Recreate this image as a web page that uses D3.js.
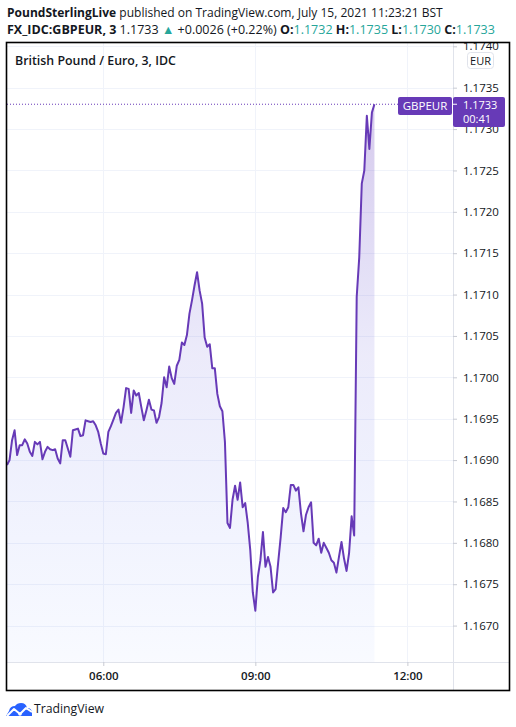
<!DOCTYPE html>
<html>
<head>
<meta charset="utf-8">
<script src="https://cdn.jsdelivr.net/npm/d3@7"></script>
<style>
  html, body { margin: 0; padding: 0; background: #ffffff; }
  svg { display: block; }
</style>
</head>
<body>
<svg id="chart" width="516" height="727"></svg>
<script>
// ---------------- DATA ----------------
const symbol = "GBPEUR";
const currency = "EUR";
const seriesTitle = "British Pound / Euro, 3, IDC";
const firstBarTime = "04:06";      // 3-minute bars
const barMinutes = 3;
const viewWindow = ["04:06", "12:54"];
const closes = [
  1.16894, 1.16900, 1.16924, 1.16936, 1.16906, 1.16918, 1.16918, 1.16925, 1.16920, 1.16910,
  1.16905, 1.16922, 1.16919, 1.16922, 1.16901, 1.16910, 1.16916, 1.16913, 1.16912, 1.16913,
  1.16902, 1.16896, 1.16924, 1.16924, 1.16914, 1.16904, 1.16936, 1.16937, 1.16938, 1.16929,
  1.16930, 1.16948, 1.16947, 1.16946, 1.16947, 1.16942, 1.16934, 1.16920, 1.16908, 1.16907,
  1.16934, 1.16941, 1.16949, 1.16957, 1.16961, 1.16945, 1.16964, 1.16987, 1.16986, 1.16957,
  1.16984, 1.16978, 1.16981, 1.16964, 1.16948, 1.16960, 1.16973, 1.16961, 1.16960, 1.16945,
  1.16952, 1.16969, 1.17000, 1.16988, 1.17013, 1.16999, 1.16992, 1.17014, 1.17021, 1.17042,
  1.17039, 1.17051, 1.17077, 1.17093, 1.17111, 1.17127, 1.17105, 1.17089, 1.17048, 1.17037,
  1.17040, 1.17011, 1.17011, 1.16980, 1.16965, 1.16959, 1.16922, 1.16824, 1.16818, 1.16852,
  1.16869, 1.16852, 1.16873, 1.16843, 1.16848, 1.16824, 1.16791, 1.16740, 1.16718, 1.16759,
  1.16779, 1.16813, 1.16771, 1.16783, 1.16771, 1.16740, 1.16744, 1.16776, 1.16807, 1.16842,
  1.16837, 1.16843, 1.16870, 1.16870, 1.16863, 1.16867, 1.16836, 1.16814, 1.16834, 1.16843,
  1.16849, 1.16800, 1.16797, 1.16805, 1.16788, 1.16800, 1.16794, 1.16788, 1.16779, 1.16776,
  1.16764, 1.16783, 1.16801, 1.16781, 1.16766, 1.16788, 1.16832, 1.16809, 1.17097, 1.17145,
  1.17234, 1.17250, 1.17316, 1.17276, 1.17320, 1.17330
];
const yDomain = [1.16656, 1.17404];
const priceTicks = [1.1670, 1.1675, 1.1680, 1.1685, 1.1690, 1.1695, 1.1700,
                    1.1705, 1.1710, 1.1715, 1.1720, 1.1725, 1.1730, 1.1735, 1.1740];
const timeTicks = ["06:00", "09:00", "12:00"];
const lastPrice = "1.1733";
const countdown = "00:41";
const headerLine1 = [
  { t: "PoundSterlingLive", w: 700, c: "#131722" },
  { t: " published on TradingView.com, July 15, 2021 11:23:21 BST", w: 400, c: "#131722" }
];
const headerLine2 = [
  { t: "FX_IDC:GBPEUR, 3", w: 700, c: "#131722" },
  { t: " 1.1733 ", w: 400, c: "#131722" },
  { t: "\u25B2", w: 400, c: "#26a69a" },
  { t: " +0.0026 (+0.22%) ", w: 400, c: "#131722" },
  { t: "O:", w: 700, c: "#131722" }, { t: "1.1732", w: 400, c: "#26a69a" },
  { t: " H:", w: 700, c: "#131722" }, { t: "1.1735", w: 400, c: "#26a69a" },
  { t: " L:", w: 700, c: "#131722" }, { t: "1.1730", w: 400, c: "#26a69a" },
  { t: " C:", w: 700, c: "#131722" }, { t: "1.1733", w: 400, c: "#26a69a" }
];

// ---------------- LAYOUT ----------------
const FONT = "'Open Sans', 'Noto Sans', sans-serif";
const frame = { left: 7, top: 43, right: 509, bottom: 690 };
const plot = { left: 7, top: 43, right: 453, bottom: 662 };
const purple = "#673ab7";

const svg = d3.select("#chart").attr("font-family", FONT);
const parseT = d3.timeParse("%Y-%m-%d %H:%M");
const T = s => parseT("2021-07-15 " + s);

const x = d3.scaleTime().domain(viewWindow.map(T)).range([plot.left, plot.right]);
const y = d3.scaleLinear().domain(yDomain).range([plot.bottom, plot.top]);

const t0 = T(firstBarTime);
const data = closes.map((v, i) => ({ t: d3.timeMinute.offset(t0, i * barMinutes), v }));

function fitWidth(sel, target) {
  const base = parseFloat(sel.attr("font-size"));
  const len = sel.node().getComputedTextLength();
  sel.attr("font-size", (base * target / len).toFixed(2));
}

// ---------------- HEADER ----------------
function richLine(parts, yPos, width, size) {
  const t = svg.append("text").attr("x", 7).attr("y", yPos).attr("font-size", size);
  parts.forEach(p => t.append("tspan").attr("font-weight", p.w).attr("fill", p.c).text(p.t));
  fitWidth(t, width);
  return t;
}
richLine(headerLine1, 17, 436, 13);
richLine(headerLine2, 34, 488, 13);

// ---------------- GRID ----------------
const defs = svg.append("defs");
defs.append("clipPath").attr("id", "plotClip").append("rect")
  .attr("x", plot.left).attr("y", plot.top)
  .attr("width", plot.right - plot.left).attr("height", plot.bottom - plot.top);
defs.append("clipPath").attr("id", "axisClip").append("rect")
  .attr("x", plot.right).attr("y", frame.top)
  .attr("width", frame.right - plot.right).attr("height", plot.bottom - frame.top);

const grid = svg.append("g").attr("clip-path", "url(#plotClip)");
grid.selectAll("line.h").data(priceTicks).join("line")
  .attr("x1", plot.left).attr("x2", plot.right)
  .attr("y1", d => Math.round(y(d)) + 0.5).attr("y2", d => Math.round(y(d)) + 0.5)
  .attr("stroke", "#f0f3fa").attr("stroke-width", 1);
grid.selectAll("line.v").data(timeTicks).join("line")
  .attr("x1", d => Math.round(x(T(d))) + 0.5).attr("x2", d => Math.round(x(T(d))) + 0.5)
  .attr("y1", plot.top).attr("y2", plot.bottom)
  .attr("stroke", "#f0f3fa").attr("stroke-width", 1);

// ---------------- AREA + LINE ----------------
const grad = defs.append("linearGradient").attr("id", "areaGrad")
  .attr("gradientUnits", "userSpaceOnUse")
  .attr("x1", 0).attr("x2", 0).attr("y1", y(d3.max(closes))).attr("y2", plot.bottom);
grad.append("stop").attr("offset", "0%").attr("stop-color", "rgb(126,87,194)").attr("stop-opacity", 0.32);
grad.append("stop").attr("offset", "45%").attr("stop-color", "rgb(110,100,220)").attr("stop-opacity", 0.13);
grad.append("stop").attr("offset", "100%").attr("stop-color", "rgb(41,98,255)").attr("stop-opacity", 0.03);

const chartG = svg.append("g").attr("clip-path", "url(#plotClip)");
chartG.append("path").datum(data)
  .attr("fill", "url(#areaGrad)")
  .attr("d", d3.area().x(d => x(d.t)).y0(plot.bottom).y1(d => y(d.v)));

const lastY = y(+lastPrice);
chartG.append("line")
  .attr("x1", plot.left).attr("x2", 398).attr("y1", lastY).attr("y2", lastY)
  .attr("stroke", purple).attr("stroke-width", 1).attr("stroke-dasharray", "1,2");

chartG.append("path").datum(data)
  .attr("fill", "none").attr("stroke", purple).attr("stroke-width", 2)
  .attr("stroke-linejoin", "round")
  .attr("d", d3.line().x(d => x(d.t)).y(d => y(d.v)));

// ---------------- TITLE ----------------
svg.append("text").attr("x", 15).attr("y", 65).attr("font-size", 12.5)
  .attr("font-weight", 600).attr("fill", "#131722").text(seriesTitle)
  .call(s => fitWidth(s, 161));

// ---------------- AXES ----------------
const axisLine = "#e0e3eb";
svg.append("line").attr("x1", plot.right + 0.5).attr("x2", plot.right + 0.5)
  .attr("y1", frame.top).attr("y2", frame.bottom).attr("stroke", axisLine);
svg.append("line").attr("x1", frame.left).attr("x2", frame.right)
  .attr("y1", plot.bottom + 0.5).attr("y2", plot.bottom + 0.5).attr("stroke", axisLine);

const yAxisOuter = svg.append("g").attr("clip-path", "url(#axisClip)");
const yAxisG = yAxisOuter.append("g")
  .attr("transform", `translate(${plot.right},0)`)
  .call(d3.axisRight(y).tickValues(priceTicks).tickFormat(d3.format(".4f"))
        .tickSize(4).tickPadding(6));
yAxisG.select(".domain").remove();
yAxisG.selectAll(".tick line").attr("stroke", "#c8cbd3");
yAxisG.selectAll(".tick text").attr("font-family", FONT).attr("font-size", 11.5)
  .attr("fill", "#131722");

const xAxisG = svg.append("g").attr("transform", `translate(0,${plot.bottom})`)
  .call(d3.axisBottom(x).tickValues(timeTicks.map(T)).tickFormat(d3.timeFormat("%H:%M"))
        .tickSize(4).tickPadding(6));
xAxisG.select(".domain").remove();
xAxisG.selectAll(".tick line").attr("stroke", "#c8cbd3");
xAxisG.selectAll(".tick text").attr("font-family", FONT).attr("font-size", 11.5)
  .attr("font-weight", 600).attr("fill", "#131722");

// EUR badge
const eur = svg.append("g");
eur.append("rect").attr("x", 467.5).attr("y", 52.5).attr("width", 26).attr("height", 16)
  .attr("rx", 3).attr("fill", "#ffffff").attr("stroke", "#e0e3eb");
eur.append("text").attr("x", 480.5).attr("y", 64.5).attr("text-anchor", "middle")
  .attr("font-size", 11).attr("fill", "#131722").text(currency);

// Price labels
const boxTop = Math.round(lastY) - 7;
svg.append("rect").attr("x", 398).attr("y", boxTop).attr("width", 54).attr("height", 18)
  .attr("rx", 2).attr("fill", purple);
svg.append("text").attr("x", 425).attr("y", boxTop + 13).attr("text-anchor", "middle")
  .attr("font-size", 11.5).attr("fill", "#ffffff").text(symbol);
svg.append("rect").attr("x", 453).attr("y", boxTop).attr("width", 52).attr("height", 30)
  .attr("rx", 2).attr("fill", purple);
svg.append("line").attr("x1", 453).attr("x2", 457).attr("y1", lastY).attr("y2", lastY)
  .attr("stroke", "#ffffff");
svg.append("text").attr("x", 463).attr("y", boxTop + 12)
  .attr("font-size", 11).attr("fill", "#ffffff").text(lastPrice);
svg.append("text").attr("x", 463).attr("y", boxTop + 26)
  .attr("font-size", 11).attr("fill", "#ffffff").text(countdown);

// ---------------- FRAME ----------------
svg.append("rect").attr("x", frame.left - 0.5).attr("y", frame.top - 0.5)
  .attr("width", frame.right - frame.left + 1).attr("height", frame.bottom - frame.top + 1)
  .attr("fill", "none").attr("stroke", "#000000").attr("stroke-width", 1.6);

// ---------------- FOOTER ----------------
const logo = svg.append("g").attr("transform", "translate(6,703)");
logo.append("path").attr("fill", "#2962ff")
  .attr("d", "M0,13 L3,8 Q4,3 9,3 Q11,0 15,0 Q20,0 21,5 Q26,5 26,10 L26,13 Z");
logo.append("polyline").attr("points", "1,13 8,6 14,11 20,5 26,9")
  .attr("fill", "none").attr("stroke", "#ffffff").attr("stroke-width", 2)
  .attr("stroke-linejoin", "round");
logo.append("circle").attr("cx", 14).attr("cy", 11).attr("r", 1.8).attr("fill", "#ffffff");
svg.append("text").attr("x", 34).attr("y", 713).attr("font-size", 13.5)
  .attr("fill", "#131722").text("TradingView")
  .call(s => fitWidth(s, 70));
</script>
</body>
</html>
